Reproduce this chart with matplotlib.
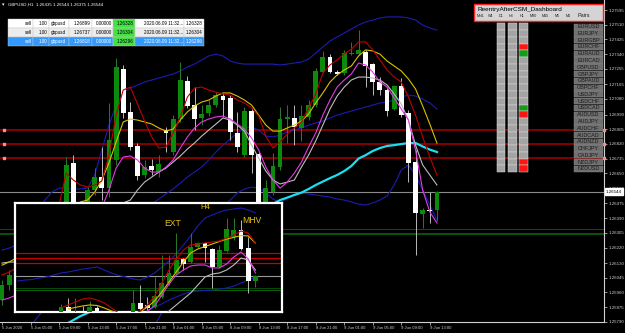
import numpy as np
import matplotlib.pyplot as plt
from matplotlib.patches import Rectangle

plt.rcParams['font.family'] = ['Liberation Sans', 'DejaVu Sans']

# ---------------- GBPUSD H1 candles (bar 0 = 5 Jun 01:00) ----------------
opens = [1.25916, 1.26003, 1.26061, 1.26020, 1.26101, 1.26176, 1.26136, 1.26234, 1.26310, 1.26408,
         1.26709, 1.26408, 1.26333, 1.26553, 1.26628, 1.26564, 1.26727, 1.27253, 1.27005, 1.26808,
         1.26640, 1.26692, 1.26657, 1.26900, 1.26773, 1.26964, 1.27184, 1.27045, 1.26970, 1.26999,
         1.27045, 1.27097, 1.27086, 1.26883, 1.26755, 1.27010, 1.26761, 1.26437, 1.26541, 1.26686,
         1.26964, 1.26970, 1.26912, 1.26976, 1.27045, 1.27236, 1.27323, 1.27236, 1.27230, 1.27340,
         1.27340, 1.27352, 1.27282, 1.27178, 1.27132, 1.27022, 1.27155, 1.26999, 1.26715, 1.26414,
         1.26437, 1.26435]
highs = [1.26032, 1.26090, 1.26090, 1.26136, 1.26205, 1.26199, 1.26257, 1.26333, 1.26345, 1.26744,
         1.26755, 1.26466, 1.26570, 1.26680, 1.26802, 1.27057, 1.27317, 1.27277, 1.27062, 1.26825,
         1.26727, 1.26732, 1.26755, 1.26918, 1.26987, 1.27294, 1.27213, 1.27149, 1.27045, 1.27074,
         1.27120, 1.27115, 1.27103, 1.27005, 1.27033, 1.27028, 1.26773, 1.26611, 1.26767, 1.27033,
         1.27045, 1.27045, 1.27045, 1.27074, 1.27259, 1.27358, 1.27340, 1.27248, 1.27364, 1.27410,
         1.27479, 1.27364, 1.27288, 1.27207, 1.27143, 1.27161, 1.27201, 1.27016, 1.26785, 1.26449,
         1.26541, 1.26550]
lows = [1.25887, 1.25974, 1.25986, 1.25997, 1.26078, 1.26118, 1.26113, 1.26211, 1.26240, 1.26368,
        1.26350, 1.26292, 1.26310, 1.26524, 1.26495, 1.26512, 1.26698, 1.26970, 1.26785, 1.26611,
        1.26622, 1.26640, 1.26628, 1.26773, 1.26755, 1.26947, 1.27028, 1.26900, 1.26929, 1.26981,
        1.27033, 1.26976, 1.26842, 1.26773, 1.26744, 1.26651, 1.26408, 1.26420, 1.26524, 1.26669,
        1.26825, 1.26813, 1.26837, 1.26958, 1.27033, 1.27230, 1.27230, 1.27219, 1.27219, 1.27335,
        1.27335, 1.27149, 1.27103, 1.27103, 1.26981, 1.27016, 1.26976, 1.26599, 1.26176, 1.26333,
        1.26362, 1.26375]
closes = [1.26003, 1.26061, 1.26020, 1.26101, 1.26176, 1.26136, 1.26234, 1.26310, 1.26275, 1.26698,
          1.26408, 1.26333, 1.26553, 1.26628, 1.26564, 1.26842, 1.27265, 1.26999, 1.26802, 1.26634,
          1.26686, 1.26669, 1.26703, 1.26883, 1.26964, 1.27190, 1.27039, 1.26964, 1.26993, 1.27045,
          1.27103, 1.27074, 1.26889, 1.26802, 1.27010, 1.26755, 1.26466, 1.26564, 1.26692, 1.26964,
          1.26976, 1.26918, 1.26981, 1.27045, 1.27242, 1.27323, 1.27236, 1.27225, 1.27346, 1.27346,
          1.27364, 1.27271, 1.27178, 1.27132, 1.27010, 1.27155, 1.26987, 1.26709, 1.26420, 1.26437,
          1.26431, 1.26544]

# indicator lines, one value per bar
ma_red = [1.26061, 1.26078, 1.26101, 1.26147, 1.26194, 1.26234, 1.26321, 1.26408, 1.26466, 1.26651,
          1.26611, 1.26582, 1.26570, 1.26582, 1.26605, 1.26755, 1.26987, 1.27132, 1.27149, 1.27051,
          1.26952, 1.26860, 1.26796, 1.26802, 1.26883, 1.26976, 1.27091, 1.27143, 1.27149, 1.27132,
          1.27120, 1.27109, 1.27103, 1.27074, 1.27057, 1.27028, 1.26981, 1.26865, 1.26796, 1.26831,
          1.26877, 1.26912, 1.26947, 1.27028, 1.27109, 1.27230, 1.27277, 1.27306, 1.27340, 1.27369,
          1.27410, 1.27410, 1.27364, 1.27306, 1.27248, 1.27207, 1.27178, 1.27091, 1.26987, 1.26860,
          1.26744, 1.26640]
ma_yellow = [1.26118, 1.26136, 1.26159, 1.26194, 1.26229, 1.26263, 1.26310, 1.26350, 1.26391, 1.26426,
             1.26455, 1.26484, 1.26495, 1.26541, 1.26611, 1.26709, 1.26831, 1.26947, 1.26964, 1.26958,
             1.26947, 1.26935, 1.26912, 1.26894, 1.26906, 1.26958, 1.27005, 1.27039, 1.27062, 1.27074,
             1.27097, 1.27115, 1.27115, 1.27097, 1.27074, 1.27045, 1.26987, 1.26929, 1.26894, 1.26894,
             1.26912, 1.26929, 1.26952, 1.26993, 1.27057, 1.27115, 1.27178, 1.27219, 1.27248, 1.27271,
             1.27329, 1.27364, 1.27358, 1.27340, 1.27300, 1.27271, 1.27242, 1.27196, 1.27138, 1.27039,
             1.26935, 1.26825]
ma_magenta = [1.25916, 1.25928, 1.25945, 1.25974, 1.26003, 1.26043, 1.26090, 1.26136, 1.26176, 1.26217,
              1.26263, 1.26310, 1.26350, 1.26391, 1.26449, 1.26553, 1.26680, 1.26744, 1.26750, 1.26727,
              1.26680, 1.26657, 1.26657, 1.26686, 1.26727, 1.26796, 1.26860, 1.26912, 1.26947, 1.26964,
              1.26976, 1.26981, 1.26964, 1.26935, 1.26906, 1.26854, 1.26785, 1.26686, 1.26611, 1.26564,
              1.26599, 1.26651, 1.26715, 1.26802, 1.26883, 1.26987, 1.27074, 1.27149, 1.27190, 1.27225,
              1.27288, 1.27277, 1.27236, 1.27178, 1.27149, 1.27086, 1.27022, 1.26958, 1.26785, 1.26553,
              1.26426, 1.26362]
ma_silver = [1.26130, 1.26136, 1.26136, 1.26142, 1.26147, 1.26159, 1.26171, 1.26188, 1.26205, 1.26234,
             1.26263, 1.26298, 1.26333, 1.26368, 1.26402, 1.26437, 1.26466, 1.26478, 1.26495, 1.26553,
             1.26599, 1.26628, 1.26657, 1.26680, 1.26715, 1.26750, 1.26790, 1.26825, 1.26865, 1.26900,
             1.26935, 1.26970, 1.26958, 1.26929, 1.26894, 1.26813, 1.26738, 1.26663, 1.26611, 1.26588,
             1.26599, 1.26611, 1.26686, 1.26755, 1.26837, 1.26929, 1.27022, 1.27097, 1.27149, 1.27190,
             1.27207, 1.27207, 1.27201, 1.27190, 1.27161, 1.27109, 1.27051, 1.26958, 1.26813, 1.26698,
             1.26640, 1.26582]
ma_cyan_start = 9
ma_cyan = [1.25777, 1.25800, 1.25823, 1.25841, 1.25864, 1.25890, 1.25916, 1.25939, 1.25962, 1.25986,
           1.26015, 1.26038, 1.26061, 1.26084, 1.26113, 1.26136, 1.26159, 1.26182, 1.26205, 1.26234,
           1.26258, 1.26281, 1.26304, 1.26327, 1.26356, 1.26379, 1.26402, 1.26426, 1.26449, 1.26472,
           1.26495, 1.26509, 1.26524, 1.26538, 1.26559, 1.26582, 1.26602, 1.26622, 1.26640, 1.26663,
           1.26692, 1.26735, 1.26755, 1.26779, 1.26796, 1.26808, 1.26813, 1.26819, 1.26825, 1.26825,
           1.26805, 1.26787, 1.26773]
band_up = [1.26205, 1.26217, 1.26234, 1.26263, 1.26321, 1.26408, 1.26495, 1.26541, 1.26564, 1.26564,
           1.26559, 1.26559, 1.26564, 1.26640, 1.26785, 1.26929, 1.27045, 1.27115, 1.27143, 1.27161,
           1.27178, 1.27190, 1.27201, 1.27213, 1.27225, 1.27242, 1.27265, 1.27282, 1.27306, 1.27329,
           1.27340, 1.27329, 1.27300, 1.27288, 1.27282, 1.27282, 1.27282, 1.27282, 1.27282, 1.27277,
           1.27282, 1.27288, 1.27294, 1.27311, 1.27346, 1.27381, 1.27416, 1.27439, 1.27462, 1.27485,
           1.27508, 1.27526, 1.27537, 1.27549, 1.27555, 1.27555, 1.27555, 1.27549, 1.27537, 1.27508,
           1.27491, 1.27479]
band_mid = [1.25656, 1.25685, 1.25713, 1.25742, 1.25765, 1.25818, 1.25870, 1.25928, 1.25974, 1.26015,
            1.26049, 1.26090, 1.26130, 1.26171, 1.26211, 1.26252, 1.26292, 1.26333, 1.26368, 1.26402,
            1.26437, 1.26472, 1.26501, 1.26530, 1.26559, 1.26593, 1.26628, 1.26657, 1.26686, 1.26727,
            1.26773, 1.26813, 1.26848, 1.26883, 1.26912, 1.26918, 1.26900, 1.26865, 1.26860, 1.26871,
            1.26889, 1.26900, 1.26912, 1.26929, 1.26941, 1.26952, 1.26970, 1.26987, 1.26999, 1.27010,
            1.27022, 1.27033, 1.27045, 1.27057, 1.27062, 1.27074, 1.27091, 1.27103, 1.27097, 1.27080,
            1.27057, 1.27022]
band_low_start = 21
band_low = [1.25742, 1.25812, 1.25887, 1.25974, 1.26061, 1.26147, 1.26217, 1.26287, 1.26350, 1.26408,
            1.26455, 1.26495, 1.26536, 1.26559, 1.26570, 1.26564, 1.26536, 1.26501, 1.26478, 1.26507,
            1.26530, 1.26536, 1.26530, 1.26524, 1.26518, 1.26512, 1.26501, 1.26495, 1.26484, 1.26472,
            1.26466, 1.26478, 1.26495, 1.26518, 1.26582, 1.26669, 1.26698, 1.26640, 1.26553, 1.26466,
            1.26379]

order_levels = [1.26899, 1.26818, 1.26737]
tp_levels = [1.26328, 1.26304, 1.26296]
bid = 1.26544

price_ticks = [1.27595, 1.27510, 1.27425, 1.27340, 1.27255, 1.27165, 1.27080, 1.26990, 1.26905,
               1.26820, 1.26735, 1.26650, 1.26560, 1.26475, 1.26390, 1.26305, 1.26220, 1.26130,
               1.26045, 1.25960, 1.25875, 1.25790]
time_tick_bars = [0, 4, 8, 12, 16, 20, 24, 28, 32, 36, 40, 44, 48, 52, 56, 60]
time_tick_labels = ['5 Jun 2020', '5 Jun 05:00', '5 Jun 09:00', '5 Jun 13:00', '5 Jun 17:00',
                    '5 Jun 21:00', '8 Jun 01:00', '8 Jun 05:00', '8 Jun 09:00', '8 Jun 13:00',
                    '8 Jun 17:00', '8 Jun 21:00', '9 Jun 01:00', '9 Jun 05:00', '9 Jun 09:00',
                    '9 Jun 13:00']

# ---------------- pasted H4 snapshot ----------------
h4_open = [1.25944, 1.26026, 1.25977, 1.25961, 1.25944, 1.26010, 1.25900, 1.25850, 1.25820, 1.25840,
           1.25928, 1.26091, 1.26058, 1.26026, 1.26188, 1.26414, 1.26576, 1.26802, 1.26754, 1.26997,
           1.27061, 1.26964, 1.26673, 1.26932, 1.27159, 1.27272, 1.26980, 1.26446]
h4_high = [1.26075, 1.26172, 1.26172, 1.26042, 1.26123, 1.26042, 1.25930, 1.25900, 1.25880, 1.25910,
           1.26300, 1.26381, 1.26188, 1.26511, 1.26867, 1.26867, 1.27223, 1.26818, 1.27223, 1.27078,
           1.27078, 1.26980, 1.27029, 1.27466, 1.27466, 1.27434, 1.27159, 1.26543]
h4_low = [1.25928, 1.25928, 1.25944, 1.25928, 1.25928, 1.25928, 1.25800, 1.25780, 1.25760, 1.25800,
          1.25895, 1.25977, 1.25977, 1.26010, 1.26172, 1.26381, 1.26560, 1.26624, 1.26738, 1.26980,
          1.26754, 1.26333, 1.26657, 1.26916, 1.27110, 1.26948, 1.26252, 1.26349]
h4_close = [1.26026, 1.25944, 1.25977, 1.25944, 1.26026, 1.25944, 1.25850, 1.25820, 1.25840, 1.25890,
            1.26091, 1.25993, 1.26010, 1.26204, 1.26414, 1.26576, 1.26786, 1.26722, 1.26997, 1.27061,
            1.26980, 1.26673, 1.26948, 1.27288, 1.27272, 1.26964, 1.26446, 1.26527]
h4_band_up = [1.26446, 1.26462, 1.26470, 1.26494, 1.26511, 1.26543, 1.26576, 1.26592, 1.26616, 1.26640,
              1.26657, 1.26673, 1.26624, 1.26576, 1.26535, 1.26511, 1.26478, 1.26462, 1.26511, 1.26576,
              1.26673, 1.26770, 1.26883, 1.27029, 1.27175, 1.27337, 1.27466, 1.27515, 1.27564, 1.27596,
              1.27612, 1.27628, 1.27596, 1.27547]          # from bar -6
h4_band_low = [1.25879, 1.25961, 1.26026, 1.26075, 1.26138, 1.26188, 1.26235, 1.26268, 1.26284, 1.26292,
               1.26300, 1.26316, 1.26333, 1.26365, 1.26414, 1.26462, 1.26511]   # from bar 11
h4_red = [1.26010, 1.26058, 1.26106, 1.26154, 1.26172, 1.26138, 1.26091, 1.26010, 1.25928, 1.25879,
          1.25895, 1.25961, 1.26058, 1.26204, 1.26414, 1.26624, 1.26802, 1.26948, 1.27029, 1.27045,
          1.27061, 1.27078, 1.27094, 1.27142, 1.27191, 1.27256, 1.27223, 1.27061]   # from bar 0
h4_yellow = [1.25993, 1.26018, 1.26042, 1.26058, 1.26050, 1.26010, 1.25961, 1.25928, 1.25911, 1.25911,
             1.25944, 1.26026, 1.26123, 1.26268, 1.26430, 1.26592, 1.26754, 1.26899, 1.26964, 1.27005,
             1.27045, 1.27086, 1.27126, 1.27151, 1.27183, 1.27175, 1.27061]   # from bar 1
h4_magenta = [1.25961, 1.26042, 1.26219, 1.26397, 1.26543, 1.26624, 1.26689, 1.26705, 1.26705, 1.26657,
              1.26657, 1.26722, 1.26835, 1.26916, 1.26802, 1.26576]   # from bar 12
h4_silver = [1.25846, 1.25961, 1.26058, 1.26154, 1.26252, 1.26381, 1.26511, 1.26560, 1.26576, 1.26624,
             1.26705, 1.26818, 1.26786, 1.26624]   # from bar 14
h4_bid = 1.26527

# table of open orders
orders = [
    ['sell', '1.00', 'gbpusd', '1.26899', '0.00000', '1.26328', '2020.06.09 11:32...', '1.26328'],
    ['sell', '1.00', 'gbpusd', '1.26737', '0.00000', '1.26304', '2020.06.09 11:32...', '1.26304'],
    ['sell', '1.00', 'gbpusd', '1.26818', '0.00000', '1.26296', '2020.06.09 11:32...', '1.26296'],
]
pairs = ['EURUSD', 'EURJPY', 'EURGBP', 'EURCHF', 'EURAUD', 'EURCAD', 'GBPUSD', 'GBPJPY', 'GBPAUD',
         'GBPCHF', 'USDJPY', 'USDCHF', 'USDCAD', 'AUDUSD', 'AUDJPY', 'AUDCHF', 'AUDCAD', 'AUDNZD',
         'CHFJPY', 'CADJPY', 'NZDJPY', 'NZDUSD']
tf_names = ['MN1', 'W1', 'D1', 'H4', 'H1', 'M30', 'M15', 'M5', 'M1']
h1_signal = {3: 'red', 4: 'green', 12: 'green', 13: 'red', 20: 'red', 21: 'red'}

BULL = '#0c8a0c'
BULL_WICK = '#2a7a2a'
BEAR = '#ffffff'
BEAR_WICK = '#b8b8b8'
AXC = '#d0d0d0'


def candles(a, xs, o, h, l, c, width, wick_lw):
    for x, oo, hh, ll, cc in zip(xs, o, h, l, c):
        up = cc >= oo
        a.vlines(x, ll, hh, color=BULL_WICK if up else BEAR_WICK, lw=wick_lw, zorder=3)
        lo = min(oo, cc)
        hgt = max(abs(cc - oo), 0.00006)
        a.bar(x, hgt, bottom=lo, width=width, color=BULL if up else BEAR, lw=0, zorder=4)


fig = plt.figure(figsize=(6.25, 3.33), dpi=100, facecolor='black')

# ---------------- main chart ----------------
ax = fig.add_axes([0, 11 / 333, 604 / 625, 322 / 333])
ax.set_facecolor('black')
bars = np.arange(len(opens))
ax.set_xlim(-0.28, 84.43)
ax.set_ylim(1.25789, 1.27653)

for lvl in order_levels:
    ax.axhline(lvl, color='#8e0000', lw=1.3, zorder=1)
for lvl in tp_levels:
    ax.axhline(lvl, color='#0b5e0b', lw=0.6, zorder=1)
ax.axhline(bid, color='#8a8a8a', lw=0.8, zorder=1)

ax.plot(bars, band_up, color='#1c1cb4', lw=0.8, zorder=2)
ax.plot(bars, band_mid, color='#1c1cb4', lw=0.8, zorder=2)
ax.plot(bars[band_low_start:], band_low, color='#1c1cb4', lw=0.8, zorder=2)
ax.plot(bars[ma_cyan_start:], ma_cyan, color='#19e0f0', lw=1.6, zorder=2)
ax.plot(bars, ma_silver, color='#bdbdbd', lw=0.8, zorder=5)
ax.plot(bars, ma_magenta, color='#e33be3', lw=0.8, zorder=5)
ax.plot(bars, ma_yellow, color='#d8c000', lw=0.8, zorder=5)
ax.plot(bars, ma_red, color='#c00000', lw=0.8, zorder=5)

candles(ax, bars, opens, highs, lows, closes, 0.68, 0.7)

for s in ['left', 'top']:
    ax.spines[s].set_visible(False)
for s in ['right', 'bottom']:
    ax.spines[s].set_color(AXC)
    ax.spines[s].set_linewidth(0.8)
ax.yaxis.tick_right()
ax.set_yticks(price_ticks)
ax.set_yticklabels([f'{v:.5f}' for v in price_ticks])
ax.tick_params(axis='y', colors=AXC, labelsize=3.2, length=2, width=0.5, pad=1.2)
ax.set_xticks(time_tick_bars)
ax.set_xticklabels(time_tick_labels, ha='left')
ax.tick_params(axis='x', colors=AXC, labelsize=3.0, length=2, width=0.5, pad=1.0)

# bid label and order markers on the price scale
ax.annotate(f'{bid:.5f}', xy=(1.003, bid), xycoords=('axes fraction', 'data'), va='center', ha='left',
            fontsize=3.2, color='black', zorder=10,
            bbox=dict(boxstyle='square,pad=0.25', fc='white', ec='white'), annotation_clip=False)
ax.scatter([1.0] * 3, order_levels, transform=ax.get_yaxis_transform(), marker='s', s=2.5,
           color='#ff8a8a', zorder=6, clip_on=False)
ax.scatter([0.006] * 3, order_levels, transform=ax.get_yaxis_transform(), marker='s', s=2.5,
           color='#ff8a8a', zorder=6, clip_on=False)

# ---------------- overlay: title, order table, dashboard ----------------
ui = fig.add_axes([0, 0, 1, 1], zorder=3)
ui.set_xlim(0, 625)
ui.set_ylim(333, 0)
ui.axis('off')
ui.patch.set_alpha(0)

ui.text(2, 4.5, '\u25be', color='white', fontsize=3.5, va='center', family='DejaVu Sans')
ui.text(8, 4.5, 'GBPUSD,H1  1.26435 1.26544 1.26375 1.26544', color='white', fontsize=3.2, va='center')

col_edges = [8.3, 33.3, 49.3, 69, 91.7, 113.3, 135, 184.3, 204]
row_edges = [19, 28.4, 37.3, 46]
row_bg = ['#ffffff', '#ececec', '#3399ff']
for r, row in enumerate(orders):
    y0, y1 = row_edges[r], row_edges[r + 1]
    for cidx, txt in enumerate(row):
        x0, x1 = col_edges[cidx], col_edges[cidx + 1]
        fc = '#44e044' if cidx == 5 else row_bg[r]
        ui.add_patch(Rectangle((x0, y0), x1 - x0, y1 - y0, fc=fc, ec='#c8c8c8', lw=0.3))
        tc = 'white' if (r == 2 and cidx != 5) else 'black'
        if cidx == 2:
            ui.text(x0 + 1.5, (y0 + y1) / 2, txt, fontsize=3.3, va='center', ha='left', color=tc)
        else:
            ui.text(x1 - 1.5, (y0 + y1) / 2, txt, fontsize=3.3, va='center', ha='right', color=tc)

# dashboard
ui.add_patch(Rectangle((474, 4), 129, 17, fc='#d4d4d4', ec='#ff2020', lw=1.0))
ui.text(477, 9.3, 'ReentryAfterCSM_Dashboard', fontsize=4.6, va='center', color='black')
tf_x = [476.7, 487.7, 498.7, 508.7, 520, 530, 541.7, 555, 566]
for tx, name in zip(tf_x, tf_names):
    ui.text(tx, 15.7, name, fontsize=2.7, va='center', color='#202020')
ui.text(577, 15.5, 'Pairs', fontsize=4.0, va='center', color='#202020')

cell_h = 6.77
top = 23.3
col_x = [496.8, 508.3, 519.3]
for ci, cx in enumerate(col_x):
    for r in range(len(pairs)):
        fc = '#a4a4a4'
        if ci == 2 and r in h1_signal:
            fc = '#ff1414' if h1_signal[r] == 'red' else '#179a17'
        ui.add_patch(Rectangle((cx, top + r * cell_h), 8.6, cell_h, fc=fc, ec='#d8d8d8', lw=0.35))
for r, name in enumerate(pairs):
    ui.add_patch(Rectangle((574.3, top + r * cell_h + 0.3), 28.2, cell_h - 0.6, fc='#6f6f6f',
                           ec='#8a8a8a', lw=0.3))
    ui.text(588.4, top + (r + 0.5) * cell_h, name, fontsize=3.9, ha='center', va='center',
            color='#1c1c1c')

# ---------------- inset H4 snapshot ----------------
ins = fig.add_axes([15 / 625, 21 / 333, 267 / 625, 109 / 333], zorder=4)
ins.set_facecolor('black')
ins.set_xlim(-6.39, 30.69)
ins.set_ylim(1.25944, 1.27709)
ins.set_xticks([])
ins.set_yticks([])
for s in ins.spines.values():
    s.set_color('white')
    s.set_linewidth(1.6)

for lvl in order_levels:
    ins.axhline(lvl, color='#c80000', lw=0.9, zorder=1)
for lvl in tp_levels:
    ins.axhline(lvl, color='#0b6a0b', lw=0.5, zorder=1)
ins.axhline(h4_bid, color='#9a9a9a', lw=0.8, zorder=1)

kb = np.arange(len(h4_open))
ins.plot(np.arange(-6, -6 + len(h4_band_up)), h4_band_up, color='#1c1cb4', lw=0.8, zorder=2)
ins.plot(np.arange(11, 11 + len(h4_band_low)), h4_band_low, color='#1c1cb4', lw=0.8, zorder=2)
ins.plot(np.arange(14, 14 + len(h4_silver)), h4_silver, color='#bdbdbd', lw=0.8, zorder=5)
ins.plot(np.arange(12, 12 + len(h4_magenta)), h4_magenta, color='#e33be3', lw=0.8, zorder=5)
ins.plot(np.arange(1, 1 + len(h4_yellow)), h4_yellow, color='#d8c000', lw=0.8, zorder=5)
ins.plot(np.arange(0, len(h4_red)), h4_red, color='#c00000', lw=0.8, zorder=5)
candles(ins, kb, h4_open, h4_high, h4_low, h4_close, 0.66, 0.7)

ins.text(15.5, 1.27380, 'EXT', color='#e8c21a', fontsize=6.2, ha='center', va='center')
ins.text(20.1, 1.27640, 'H4', color='#e8c21a', fontsize=5.6, ha='center', va='center')
ins.text(26.5, 1.27430, 'MHV', color='#e8c21a', fontsize=6.2, ha='center', va='center')

fig.savefig('out.png', dpi=100, facecolor='black')
